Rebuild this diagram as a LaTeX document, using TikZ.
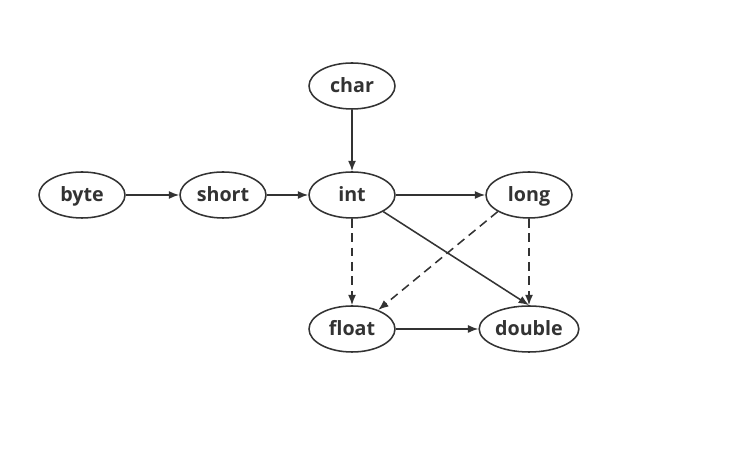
\documentclass[tikz,border=0pt]{standalone}
\usepackage{fontspec}
\setmainfont{Open Sans}
\usepackage{tikz}
\usetikzlibrary{shapes.geometric, arrows.meta}
\definecolor{ink}{HTML}{333333}
\tikzstyle{type} = [ellipse, draw=ink, line width=1.1pt, minimum width=2.15cm, minimum height=1.15cm, inner sep=1pt, text height=12pt, text depth=2.5pt, text=ink, font=\fontsize{14}{16}\selectfont\bfseries]
\tikzstyle{arrow} = [line width=1.1pt, draw=ink, -{Latex[length=2.6mm,width=2mm]}]
\tikzstyle{dasharrow} = [arrow, dash pattern=on 2.2mm off 1.4mm]

\begin{document}
\begin{tikzpicture}
        \useasboundingbox (0,0) rectangle (18.825,11.325);
        \node[type] (char) at (8.8,9.175) {char};
        \node[type] (byte) at (2.05,6.45) {byte};
        \node[type] (short) at (5.575,6.45) {short};
        \node[type] (int) at (8.8,6.45) {int};
        \node[type] (long) at (13.225,6.45) {long};
        \node[type] (float) at (8.8,3.1) {float};
        \node[type, minimum width=2.35cm] (double) at (13.225,3.1) {double};
        \draw[arrow] (byte) -- (short);
        \draw[arrow] (short) -- (int);
        \draw[arrow] (char) -- (int);
        \draw[arrow] (int) -- (long);
        \draw[arrow] (int.-28) -- (double.north);
        \draw[arrow] (float) -- (double);
        \draw[dasharrow] (int) -- (float);
        \draw[dasharrow] (long) -- (double);
        \draw[dasharrow] (long.-152) -- (float.36);
\end{tikzpicture}
\end{document}
